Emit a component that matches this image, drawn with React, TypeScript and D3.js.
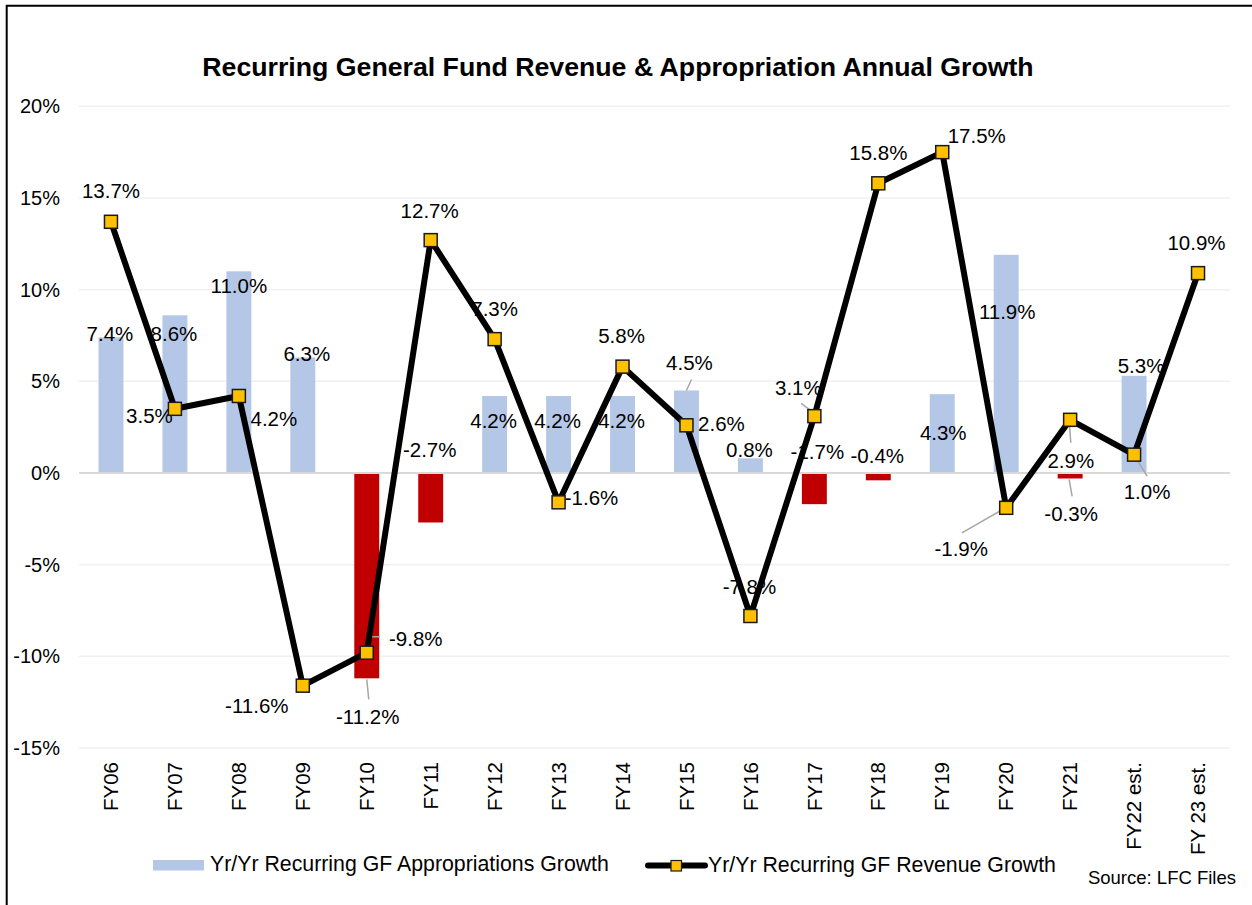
import React from 'react';
import * as d3 from 'd3';

// chart data
const categories = ['FY06', 'FY07', 'FY08', 'FY09', 'FY10', 'FY11', 'FY12', 'FY13', 'FY14', 'FY15',
  'FY16', 'FY17', 'FY18', 'FY19', 'FY20', 'FY21', 'FY22 est.', 'FY 23 est.'];
const appropGrowth: (number | null)[] = [7.4, 8.6, 11.0, 6.3, -11.2, -2.7, 4.2, 4.2, 4.2, 4.5,
  0.8, -1.7, -0.4, 4.3, 11.9, -0.3, 5.3, null];
const revenueGrowth = [13.7, 3.5, 4.2, -11.6, -9.8, 12.7, 7.3, -1.6, 5.8, 2.6,
  -7.8, 3.1, 15.8, 17.5, -1.9, 2.9, 1.0, 10.9];
const yTicks = [-15, -10, -5, 0, 5, 10, 15, 20];

const title = 'Recurring General Fund Revenue & Appropriation Annual Growth';
const barSeriesName = 'Yr/Yr Recurring GF Appropriations Growth';
const lineSeriesName = 'Yr/Yr Recurring GF Revenue Growth';
const sourceNote = 'Source: LFC Files';

// label placement (px offsets from the mark end), hand placed like the original
const barLabelOffset: [number, number][] = [
  [-1, 4], [-1, 26], [0, 22], [4, 4], [1, 46], [-1, -65], [-1, 32], [-1, 32], [-1, 32], [3, -20],
  [-1, -1.5], [3, -45], [-1, -17], [1, 46], [1, 64], [1, 43], [7, -3], [0, 0],
];
const lineLabelOffset: [number, number][] = [
  [0, -24], [-25.5, 14], [35, 30], [-46, 27], [49, -7], [-1, -22], [0, -23], [33, 3], [-1, -24], [35, 5.6],
  [-1, -22], [-16, -21], [0, -23], [34.5, -9], [-45, 48], [0.7, 47.7], [13, 44], [-1.5, -23],
];
// leader lines: index -> polyline points relative to the mark end
const barLeaders: Record<number, [number, number][]> = {
  4: [[0, 1], [2, 21]],
  9: [[0, 0], [5, -11]],
  15: [[-1, 1], [2, 18]],
};
const lineLeaders: Record<number, [number, number][]> = {
  4: [[1, -3], [1, -16], [13, -16]],
  11: [[-1.7, -4.3], [-13.3, -12.7]],
  14: [[-2, 0.7], [-44.3, 25]],
  15: [[-1, 0.4], [0.7, 23]],
  16: [[1, 2], [13, 21.5]],
};

const W = 1252;
const H = 905;
const FONT = '"Liberation Sans", Arial, sans-serif';
const BLUE = '#B4C7E7';
const RED = '#C00000';
const GOLD = '#FFC000';
const fmt = (v: number) => `${v.toFixed(1)}%`;

const App = () => {
  const x = d3.scaleBand<string>().domain(categories).range([79, 1230]).padding(0);
  const y = d3.scaleLinear().domain([-15, 20]).range([748, 106.3]);
  const cx = (i: number) => (x(categories[i]) as number) + x.bandwidth() / 2;
  const barW = x.bandwidth() * 0.39;

  const line = d3.line<number>()
    .x((d, i) => cx(i))
    .y(d => y(d));

  const leaderPath = d3.line<[number, number]>();

  return (
    <svg width={W} height={H} style={{ position: 'absolute', left: 0, top: 0, background: '#fff' }}
      fontFamily={FONT}>
      <rect x={0} y={0} width={W} height={H} fill="#fff" />
      {/* frame */}
      <line x1={6} x2={W} y1={5.8} y2={5.8} stroke="#000" strokeWidth={2} />
      <line x1={6.7} x2={6.7} y1={5} y2={H} stroke="#000" strokeWidth={2} />

      <text x={618} y={76} textAnchor="middle" fontSize={26.7} fontWeight="bold" fill="#000">{title}</text>

      {/* grid + y axis */}
      {yTicks.map(t => (
        <g key={t}>
          {t !== 0 && <line x1={79} x2={1230} y1={y(t)} y2={y(t)} stroke="#F0F0F0" strokeWidth={1.5} />}
          <text x={60} y={y(t) + 7} textAnchor="end" fontSize={20} fill="#000">{`${t}%`}</text>
        </g>
      ))}

      {/* bars */}
      {appropGrowth.map((v, i) => v === null ? null : (
        <rect key={i} x={cx(i) - barW / 2} width={barW}
          y={Math.min(y(v), y(0))} height={Math.abs(y(v) - y(0))}
          fill={v < 0 ? RED : BLUE} />
      ))}
      <line x1={79} x2={1230} y1={y(0)} y2={y(0)} stroke="#D9D9D9" strokeWidth={2} />

      {/* x labels */}
      {categories.map((c, i) => (
        <text key={c} transform={`translate(${cx(i)},762) rotate(-90)`} textAnchor="end" dy="0.35em"
          fontSize={20.5} fill="#000">{c}</text>
      ))}

      {/* leader lines */}
      {Object.entries(barLeaders).map(([k, pts]) => {
        const i = +k;
        const v = appropGrowth[i] as number;
        return <path key={'bl' + k} d={leaderPath(pts.map(p => [cx(i) + p[0], y(v) + p[1]]) as [number, number][]) || ''}
          fill="none" stroke="#A6A6A6" strokeWidth={1.5} />;
      })}
      {Object.entries(lineLeaders).map(([k, pts]) => {
        const i = +k;
        const v = revenueGrowth[i];
        return <path key={'ll' + k} d={leaderPath(pts.map(p => [cx(i) + p[0], y(v) + p[1]]) as [number, number][]) || ''}
          fill="none" stroke="#A6A6A6" strokeWidth={1.5} />;
      })}

      {/* data labels */}
      {appropGrowth.map((v, i) => v === null ? null : (
        <text key={'b' + i} x={cx(i) + barLabelOffset[i][0]} y={y(v) + barLabelOffset[i][1]}
          textAnchor="middle" fontSize={20.5} fill="#000">{fmt(v)}</text>
      ))}
      {revenueGrowth.map((v, i) => (
        <text key={'r' + i} x={cx(i) + lineLabelOffset[i][0]} y={y(v) + lineLabelOffset[i][1]}
          textAnchor="middle" fontSize={20.5} fill="#000">{fmt(v)}</text>
      ))}

      {/* revenue line */}
      <path d={line(revenueGrowth) || ''} fill="none" stroke="#000" strokeWidth={6} strokeLinejoin="round" />
      {revenueGrowth.map((v, i) => (
        <rect key={'m' + i} x={cx(i) - 6.5} y={y(v) - 6.5} width={13} height={13}
          fill={GOLD} stroke="#1a1a1a" strokeWidth={1.5} />
      ))}

      {/* legend */}
      <rect x={153} y={860} width={51} height={10.5} fill={BLUE} />
      <text x={210} y={871} fontSize={21.3} fill="#000">{barSeriesName}</text>
      <line x1={648} x2={705} y1={865.5} y2={865.5} stroke="#000" strokeWidth={6} strokeLinecap="round" />
      <rect x={671} y={860.5} width={10.5} height={10.5} fill={GOLD} stroke="#1a1a1a" strokeWidth={1.2} />
      <text x={708} y={871.5} fontSize={21.3} fill="#000">{lineSeriesName}</text>

      <text x={1236} y={883.5} textAnchor="end" fontSize={18.5} fill="#000">{sourceNote}</text>
    </svg>
  );
};

export default App;
